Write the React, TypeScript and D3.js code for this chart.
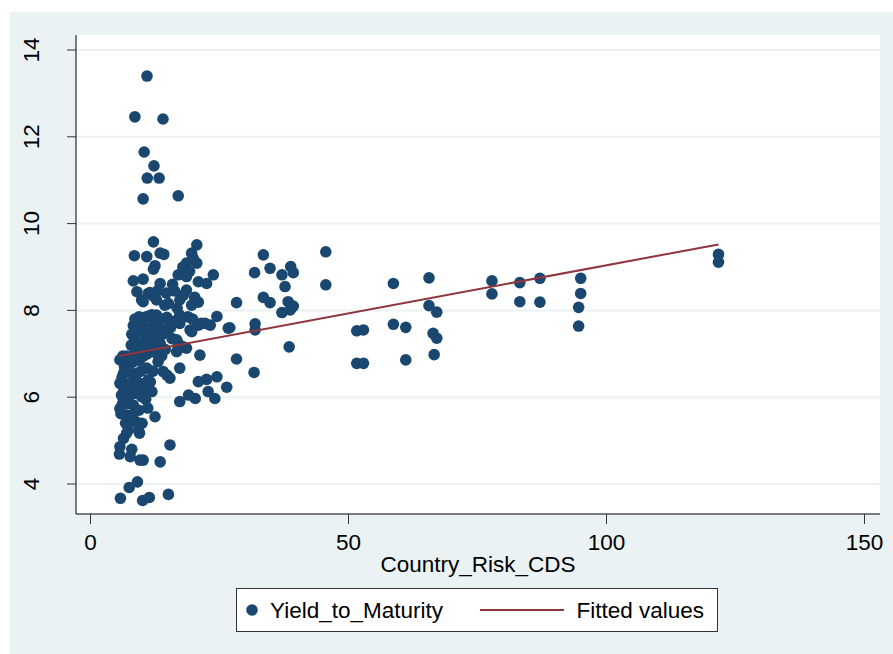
import React from "react";
import * as d3 from "d3";

// ---- data (Country_Risk_CDS, Yield_to_Maturity) ----
const cdsValues: number[] = [
  // top outliers
  10.95, 8.6, 14.05, 10.4, 12.3, 11.0, 13.3, 10.2, 17.0,
  // upper cluster
  12.2, 8.5, 10.9, 13.5, 14.2, 12.5, 12.2, 20.6, 19.6, 18.6, 20.6, 17.0, 18.6, 20.9, 22.5, 23.8,
  8.3, 10.2, 13.5, 9.0, 11.5, 10.2, 12.8, 15.1, 17.3, 18.0, 18.6, 20.9, 19.6, 14.4, 12.2, 11.2, 9.9,
  // middle
  8.6, 11.5, 12.8, 14.8, 15.1, 17.3, 17.3, 19.3, 19.6, 21.5, 20.9, 22.2, 23.2, 24.5, 26.7, 9.6, 12.2,
  14.8, 16.7, 18.0, 17.0, 16.7, 18.6, 21.2, 28.3, 17.3, 6.4, 9.0, 10.9, 13.5,
  // right side
  28.3, 33.5, 31.8, 34.8, 37.1, 38.8, 39.3, 37.7, 45.6, 45.6, 58.7, 33.5, 34.8, 38.3, 39.3, 37.1, 38.7,
  27.0, 31.9, 31.9, 38.5, 31.7, 51.6, 52.9, 51.6, 52.9, 58.7, 65.6, 65.6, 67.1, 61.1, 66.4, 67.1, 61.1,
  66.6, 77.8, 77.8, 83.2, 83.2, 87.1, 87.1, 95.0, 95.0, 94.6, 94.6, 121.7, 121.7,
  // lower periphery
  5.7, 6.4, 5.7, 6.0, 5.7, 7.0, 7.3, 6.4, 5.7, 5.6, 8.0, 7.7, 9.6, 10.2, 13.5, 15.4, 12.5, 9.3, 9.0,
  8.3, 8.6, 9.9, 11.9, 9.6, 11.2, 9.0, 10.9, 13.1, 14.1, 15.4, 14.8, 20.9, 22.5, 24.5, 26.4, 22.8, 24.1,
  17.3, 19.0, 20.3, 7.0, 9.5,
  // bottom
  5.8, 7.5, 9.1, 10.1, 11.4, 15.1,
  // dense core
  5.9, 6.2, 6.5, 6.1, 6.6, 7.1, 7.4, 7.0, 7.6, 7.2, 7.8, 8.2, 8.0, 8.4, 8.1, 8.7, 8.5, 8.9, 8.3, 9.4,
  9.2, 9.5, 9.8, 10.3, 10.6, 10.1, 10.8, 11.3, 11.0, 11.6, 12.0, 12.4, 12.7, 13.2, 13.6, 13.9, 12.1,
  11.6, 10.4, 10.7, 9.4, 10.0, 11.1, 6.8, 6.3, 7.9, 8.0, 9.7, 10.2, 11.9, 12.9, 13.8, 14.5, 15.5, 16.2,
  15.8, 14.7, 13.0, 16.3, 15.9, 16.8, 18.9, 19.8, 20.2, 19.2, 19.9, 17.9,
];

const ytmValues: number[] = [
  13.40, 12.46, 12.41, 11.65, 11.33, 11.05, 11.05, 10.57, 10.64,
  9.58, 9.26, 9.24, 9.32, 9.29, 9.03, 8.95, 9.51, 9.32, 9.09, 9.09, 8.82, 8.78, 8.66, 8.62, 8.82,
  8.68, 8.72, 8.62, 8.43, 8.41, 8.20, 8.24, 8.16, 8.24, 8.35, 8.47, 8.19, 8.12, 8.12, 8.33, 8.39, 8.24,
  7.80, 7.88, 7.89, 7.84, 7.74, 7.89, 7.70, 7.55, 7.51, 7.70, 7.66, 7.70, 7.66, 7.86, 7.59, 7.55, 7.47,
  7.55, 7.32, 7.16, 7.24, 7.05, 7.13, 6.97, 6.88, 6.67, 6.86, 7.09, 7.16, 7.24,
  8.18, 9.28, 8.87, 8.97, 8.82, 9.01, 8.87, 8.55, 9.35, 8.59, 8.62, 8.30, 8.18, 8.20, 8.10, 7.95, 8.01,
  7.60, 7.69, 7.55, 7.16, 6.57, 7.53, 7.55, 6.78, 6.78, 7.68, 8.75, 8.11, 7.96, 7.61, 7.47, 7.36, 6.86,
  6.98, 8.68, 8.38, 8.64, 8.20, 8.74, 8.19, 8.74, 8.39, 8.07, 7.64, 9.29, 9.11,
  6.86, 6.55, 6.32, 6.05, 5.74, 5.59, 5.24, 5.05, 4.86, 4.69, 4.80, 4.63, 4.55, 4.55, 4.51, 4.90, 5.55, 5.24, 5.42,
  5.82, 6.09, 6.01, 6.13, 6.32, 6.40, 6.55, 6.67, 6.82, 6.59, 6.44, 6.51, 6.36, 6.41, 6.47, 6.23, 6.13, 5.97,
  5.90, 6.05, 5.97, 5.17, 5.17,
  3.67, 3.92, 4.05, 3.62, 3.69, 3.76,
  5.62, 5.85, 6.18, 6.45, 6.70, 6.95, 6.60, 6.30, 6.05, 5.85, 5.45, 5.60, 6.25, 6.45, 6.80, 7.05, 7.30, 7.50, 7.65, 7.85,
  7.25, 6.85, 6.60, 6.95, 7.40, 7.65, 7.85, 7.55, 7.00, 7.20, 7.65, 7.05, 7.35, 7.60, 7.80, 7.45, 6.60,
  6.35, 6.20, 5.95, 5.70, 5.40, 5.75, 5.40, 6.95, 7.20, 7.45, 7.05, 7.25, 7.90, 7.00, 6.95, 7.10, 7.60, 7.75,
  7.35, 8.40, 8.45, 8.45, 8.60, 8.05, 7.85, 7.80, 8.30, 8.90, 9.20, 9.00,
];

// fitted line endpoints (x, fitted y)
const fitX: number[] = [5.6, 121.7];
const fitY: number[] = [6.95, 9.52];

const xTicks: number[] = [0, 50, 100, 150];
const yTicks: number[] = [4, 6, 8, 10, 12, 14];

const xTitle = "Country_Risk_CDS";
const legendLabels: string[] = ["Yield_to_Maturity", "Fitted values"];

const W = 893;
const H = 654;
const BG = "#EAF2F3";
const NAVY = "#1A476F";
const MAROON = "#90353B";
const FONT = "'Liberation Sans', Arial, sans-serif";

export default function App() {
  const plotL = 76, plotR = 880, plotT = 35, plotB = 514;
  const x = d3.scaleLinear().domain([0, 150]).range([90.5, 864.5]);
  const y = d3.scaleLinear().domain([4, 14]).range([484, 50]);
  const line = d3
    .line<number>()
    .x((d) => x(d))
    .y((_, i) => y(fitY[i]));

  const pts = cdsValues.map((c, i) => [c, ytmValues[i]] as [number, number]);

  return (
    <div style={{ position: "absolute", left: 0, top: 0 }}>
      <svg width={W} height={H} style={{ display: "block" }} fontFamily={FONT}>
        <rect x={0} y={0} width={W} height={H} fill="#ffffff" />
        <rect x={10} y={12} width={W - 10} height={H - 12} fill={BG} />
        <rect x={plotL} y={plotT} width={plotR - plotL} height={plotB - plotT} fill="#ffffff" />
        {/* gridlines */}
        {yTicks.map((t) => (
          <line key={"g" + t} x1={plotL} x2={plotR} y1={y(t)} y2={y(t)} stroke={BG} strokeWidth={2} />
        ))}
        {/* points */}
        {pts.map((p, i) => (
          <circle key={i} cx={x(p[0])} cy={y(p[1])} r={5.8} fill={NAVY} />
        ))}
        {/* fitted */}
        <path d={line(fitX) || ""} fill="none" stroke={MAROON} strokeWidth={2} />
        {/* axes */}
        <line x1={plotL} x2={plotL} y1={plotT} y2={plotB} stroke="#000" strokeWidth={1} />
        <line x1={plotL} x2={plotR} y1={plotB} y2={plotB} stroke="#000" strokeWidth={1} />
        {yTicks.map((t) => (
          <g key={"yt" + t}>
            <line x1={plotL - 9} x2={plotL} y1={y(t)} y2={y(t)} stroke="#333" strokeWidth={1} />
            <text
              transform={`translate(39,${y(t)}) rotate(-90)`}
              textAnchor="middle"
              fontSize={22.5}
              fill="#000"
            >
              {t}
            </text>
          </g>
        ))}
        {xTicks.map((t) => (
          <g key={"xt" + t}>
            <line x1={x(t)} x2={x(t)} y1={plotB} y2={plotB + 10} stroke="#333" strokeWidth={1} />
            <text x={x(t)} y={550} textAnchor="middle" fontSize={22.5} fill="#000">
              {t}
            </text>
          </g>
        ))}
        <text x={478} y={572} textAnchor="middle" fontSize={22.5} fill="#000">
          {xTitle}
        </text>
        {/* legend */}
        <rect x={236.5} y={588.5} width={481} height={43} fill="#ffffff" stroke="#333" strokeWidth={1} />
        <circle cx={252} cy={610} r={5.8} fill={NAVY} />
        <text x={270} y={618} fontSize={22.5} fill="#000">
          {legendLabels[0]}
        </text>
        <line x1={480} x2={564} y1={610} y2={610} stroke={MAROON} strokeWidth={2} />
        <text x={576.5} y={618} fontSize={22.5} fill="#000">
          {legendLabels[1]}
        </text>
      </svg>
    </div>
  );
}
